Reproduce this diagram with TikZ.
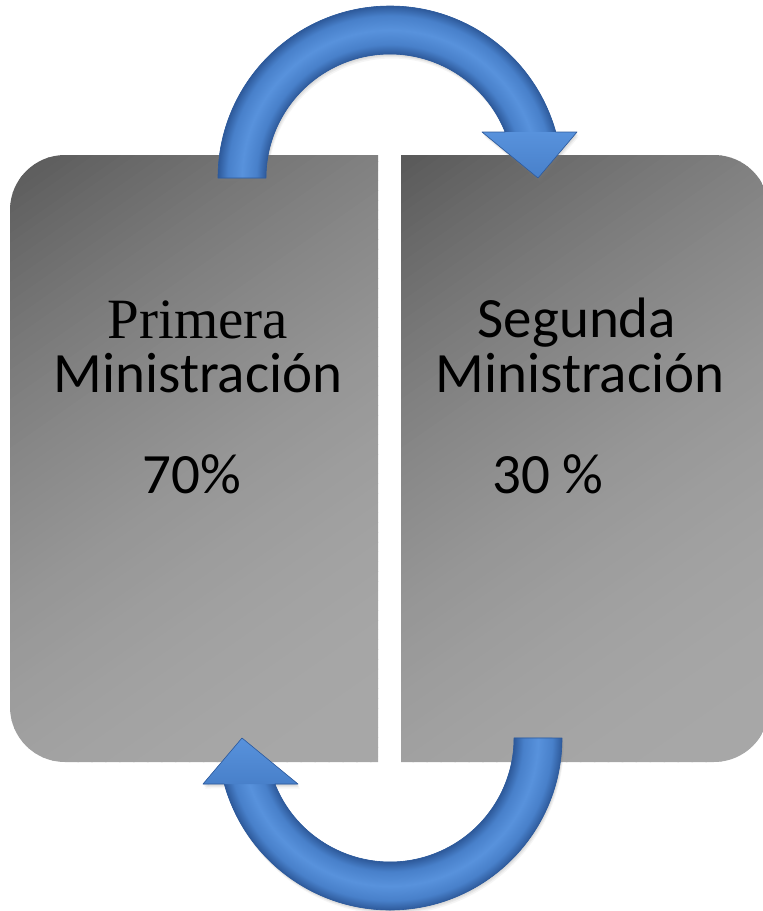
\documentclass[tikz,border=0pt]{standalone}
\usepackage{fontspec}
\setmainfont{Carlito}
\newfontfamily\timesf{Liberation Serif}
\usetikzlibrary{shadows}
\definecolor{arrowblue}{RGB}{72,128,202}
\definecolor{arrowlight}{RGB}{88,146,220}
\definecolor{arrowdark}{RGB}{46,90,155}
\pgfdeclareradialshading{shaftshade}{\pgfpointorigin}{%
  color(0bp)=(arrowdark); color(15.5bp)=(arrowdark); color(16.7bp)=(arrowblue);
  color(18.5bp)=(arrowlight); color(20.3bp)=(arrowblue); color(21.5bp)=(arrowdark);
  color(50bp)=(arrowdark)}
\tikzset{
  softshadow/.style={
    drop shadow={opacity=0.10, shadow xshift=0.5pt, shadow yshift=-1pt},
    drop shadow={opacity=0.10, shadow xshift=1pt, shadow yshift=-2pt},
    drop shadow={opacity=0.10, shadow xshift=1.5pt, shadow yshift=-3pt},
    drop shadow={opacity=0.08, shadow xshift=2pt, shadow yshift=-4.5pt}},
  arrowbase/.style={fill=arrowblue, softshadow},
  arrowline/.style={draw=arrowdark, line width=0.6pt, line join=round},
  headfill/.style={top color=arrowlight, bottom color=arrowblue},
  lbl/.style={anchor=base, inner sep=0pt, font=\fontsize{57}{60}\selectfont, text=black}
}
\newcommand\boxgrad{%
  \foreach \i in {0,...,89}{%
    \pgfmathsetmacro\g{int(90+78*(1-(1-min(\i,88)/88)^2))}%
    \definecolor{bandc}{RGB}{\g,\g,\g}%
    \fill[bandc] (8*\i,-420) rectangle (8*\i+8.7,420);
  }}
\begin{document}
\begin{tikzpicture}[x=1pt, y=-1pt]
\useasboundingbox (0,0) rectangle (763,911);
\clip (0,0) rectangle (763,911);
% left box
\begin{scope}
  \clip (378,155) -- (65,155) arc[start angle=270, end angle=180, radius=55]
    -- (10,707) arc[start angle=180, end angle=90, radius=55] -- (378,762) -- cycle;
  \begin{scope}[shift={(10,155)}, rotate=-55] \boxgrad \end{scope}
\end{scope}
% right box
\begin{scope}
  \clip (401,155) -- (714,155) arc[start angle=270, end angle=360, radius=55]
    -- (769,707) arc[start angle=0, end angle=90, radius=55] -- (401,762) -- cycle;
  \begin{scope}[shift={(401,155)}, rotate=-55] \boxgrad \end{scope}
\end{scope}
% top arrow (centre 390,178)
\coordinate (ctop) at (390,178);
\path[arrowbase] (218,178) arc[start angle=180, end angle=344.5, radius=172]
  -- (577,132) -- (538,178) -- (482,132)
  -- (505.1,132) arc[start angle=338.2, end angle=180, radius=124] -- cycle;
\begin{scope}
  \clip (218,178) arc[start angle=180, end angle=344.5, radius=172]
    -- (505.1,132) arc[start angle=338.2, end angle=180, radius=124] -- cycle;
  \shade[shading=shaftshade] (ctop) circle[radius=200];
\end{scope}
\path[headfill] (577,132) -- (538,178) -- (482,132) -- cycle;
\path[arrowline] (218,178) arc[start angle=180, end angle=344.5, radius=172]
  -- (577,132) -- (538,178) -- (482,132)
  -- (505.1,132) arc[start angle=338.2, end angle=180, radius=124] -- cycle;
% bottom arrow (centre 390,738)
\coordinate (cbot) at (390,738);
\path[arrowbase] (562,738) arc[start angle=0, end angle=164.5, radius=172]
  -- (203,784) -- (242,738) -- (298,784)
  -- (274.9,784) arc[start angle=158.2, end angle=0, radius=124] -- cycle;
\begin{scope}
  \clip (562,738) arc[start angle=0, end angle=164.5, radius=172]
    -- (274.9,784) arc[start angle=158.2, end angle=0, radius=124] -- cycle;
  \shade[shading=shaftshade] (cbot) circle[radius=200];
\end{scope}
\path[headfill] (203,784) -- (242,738) -- (298,784) -- cycle;
\path[arrowline] (562,738) arc[start angle=0, end angle=164.5, radius=172]
  -- (203,784) -- (242,738) -- (298,784)
  -- (274.9,784) arc[start angle=158.2, end angle=0, radius=124] -- cycle;
% texts
\node[lbl] (p1) at (198,338) {\timesf Primera};
\node[lbl] (p2) at (198,392) {Ministración};
\node[lbl] (p3) at (192,493) {70\%};
\node[lbl] (s1) at (577,337) {Segunda};
\node[lbl] (s2) at (580,392) {Ministración};
\node[lbl] (s3) at (548,493) {30 \%};
\end{tikzpicture}
\end{document}
